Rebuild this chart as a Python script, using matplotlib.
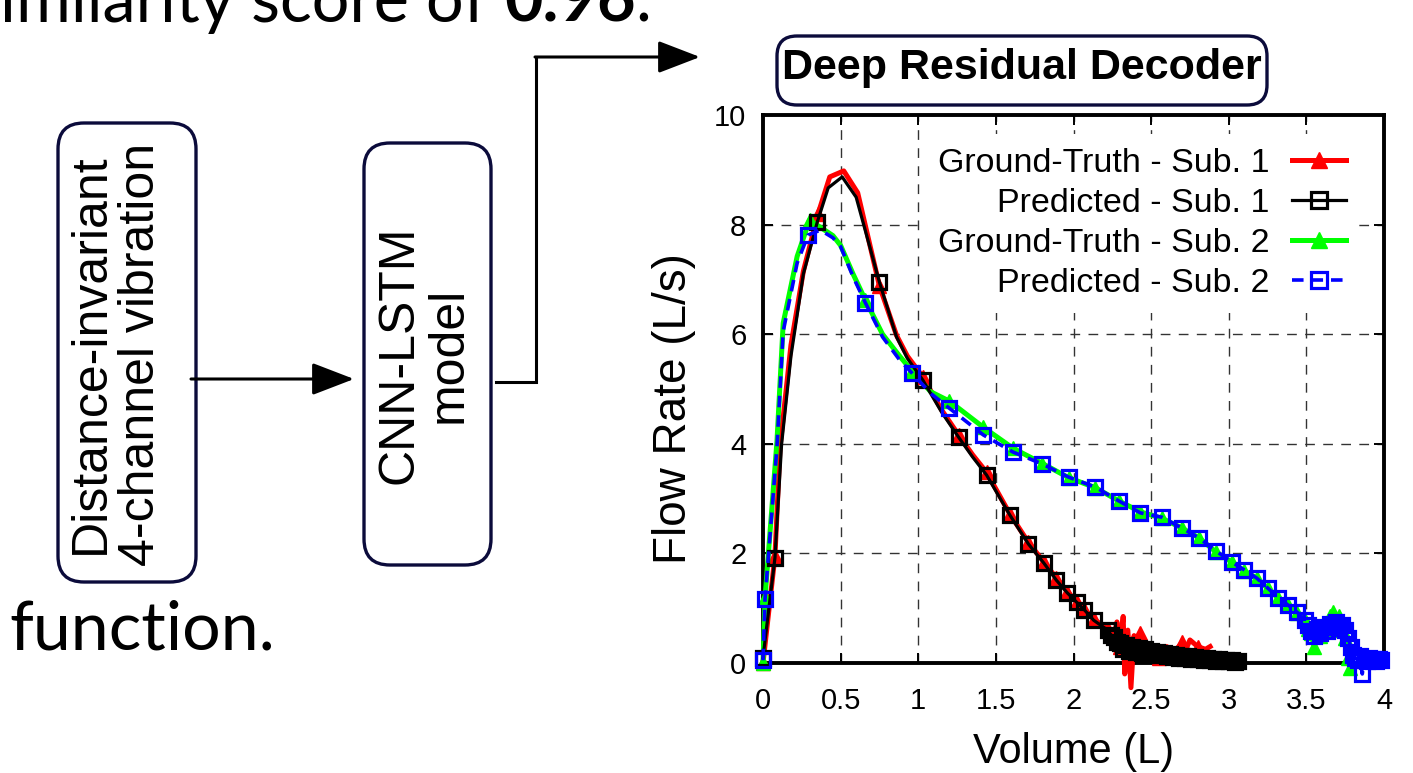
import matplotlib
matplotlib.use("Agg")
import matplotlib.pyplot as plt
from matplotlib.patches import FancyBboxPatch
from matplotlib.ticker import FormatStrFormatter

plt.rcParams["font.family"] = ["Liberation Sans", "DejaVu Sans"]

# ---- data (volume in L, flow in L/s) ----
gt1_vol = [0.00, 0.077, 0.11, 0.18, 0.26, 0.355, 0.43, 0.52, 0.61, 0.75, 0.86, 0.93, 1.03, 1.15,
           1.26, 1.35, 1.44, 1.59, 1.71, 1.81, 1.89, 1.96, 2.02, 2.07, 2.13, 2.18, 2.22, 2.26,
           2.28, 2.30, 2.32, 2.33, 2.35, 2.37, 2.39, 2.41, 2.43, 2.46, 2.50, 2.55, 2.60, 2.65,
           2.70, 2.72, 2.75, 2.80, 2.85, 2.88]
gt1_flow = [0.00, 1.95, 3.95, 5.8, 7.15, 8.2, 8.87, 8.98, 8.58, 6.88, 5.98, 5.6, 5.22, 4.62,
            4.16, 3.8, 3.48, 2.72, 2.2, 1.84, 1.55, 1.3, 1.12, 0.98, 0.8, 0.7, 0.62, 0.5,
            0.75, 0.3, 0.85, -0.2, 0.6, -0.45, 0.5, 0.2, 0.55, 0.15, 0.35, 0.1, 0.3, 0.2,
            0.38, 0.22, 0.42, 0.3, 0.25, 0.3]
gt1_marks = [0, 1, 5, 9, 12, 14, 16, 17, 18, 19, 20, 21, 22, 23, 24, 26, 29, 36, 39, 42, 45]

pr1_vol = [0.00, 0.077, 0.12, 0.18, 0.26, 0.35, 0.42, 0.51, 0.60, 0.75, 0.86, 0.93, 1.03, 1.15,
           1.26, 1.35, 1.44, 1.59, 1.71, 1.81, 1.89, 1.96, 2.02, 2.07, 2.13, 2.18,
           2.22, 2.24, 2.26, 2.28, 2.30, 2.32, 2.34, 2.36, 2.38, 2.40, 2.42, 2.44, 2.46, 2.48,
           2.50, 2.52, 2.54, 2.56, 2.58, 2.60, 2.62, 2.64, 2.66, 2.68, 2.70, 2.72, 2.74, 2.76,
           2.78, 2.80, 2.82, 2.84, 2.86, 2.88, 2.90, 2.92, 2.94, 2.96, 2.98, 3.00, 3.02, 3.04,
           3.06]
pr1_flow = [0.10, 1.92, 4.00, 5.6, 7.10, 8.05, 8.67, 8.87, 8.50, 6.95, 5.95, 5.56, 5.16, 4.58,
            4.12, 3.76, 3.43, 2.70, 2.17, 1.82, 1.51, 1.28, 1.11, 0.97, 0.78, 0.68,
            0.60, 0.52, 0.47, 0.38, 0.36, 0.26, 0.33, 0.22, 0.30, 0.20, 0.27, 0.19, 0.25, 0.17,
            0.22, 0.16, 0.20, 0.14, 0.18, 0.13, 0.16, 0.11, 0.15, 0.10, 0.13, 0.09, 0.12, 0.08,
            0.11, 0.07, 0.10, 0.06, 0.09, 0.05, 0.08, 0.04, 0.07, 0.04, 0.06, 0.03, 0.05, 0.02,
            0.03]
pr1_marks = [0, 1, 5, 9, 12, 14, 16, 17, 18, 19, 20, 21, 22, 23, 24] + list(range(26, 69))

gt2_vol = [0.00, 0.013, 0.09, 0.13, 0.22, 0.30, 0.37, 0.45, 0.50, 0.58, 0.66, 0.77, 0.88, 0.96,
           1.08, 1.20, 1.42, 1.61, 1.80, 1.97, 2.14, 2.29, 2.43, 2.57, 2.70, 2.81, 2.92, 3.02,
           3.10, 3.18, 3.25, 3.32, 3.38, 3.44,
           3.49, 3.51, 3.53, 3.55, 3.57, 3.59, 3.61, 3.63, 3.65, 3.67, 3.69, 3.71, 3.73, 3.75,
           3.77, 3.78]
gt2_flow = [0.00, 1.19, 4.05, 6.2, 7.42, 8.08, 7.95, 7.8, 7.62, 7.1, 6.62, 6.0, 5.6, 5.33,
            4.95, 4.78, 4.3, 3.92, 3.64, 3.38, 3.2, 2.96, 2.76, 2.64, 2.46, 2.28, 2.02, 1.84,
            1.68, 1.55, 1.36, 1.18, 1.05, 0.92,
            0.78, 0.62, 0.55, 0.30, 0.62, 0.50, 0.70, 0.58, 0.85, 0.93, 0.60, 0.85, 0.62, 0.45,
            0.10, -0.10]
gt2_marks = [0, 1, 5, 10, 13, 15] + list(range(16, 50))

pr2_vol = [0.00, 0.013, 0.09, 0.13, 0.22, 0.29, 0.37, 0.45, 0.50, 0.58, 0.66, 0.77, 0.88, 0.96,
           1.08, 1.20, 1.42, 1.61, 1.80, 1.97, 2.14, 2.29, 2.43, 2.57, 2.70, 2.81, 2.92, 3.02,
           3.10, 3.18, 3.25, 3.32, 3.38, 3.44,
           3.49, 3.51, 3.53, 3.55, 3.57, 3.59, 3.61, 3.63, 3.65, 3.67, 3.69, 3.71, 3.73, 3.75,
           3.77, 3.785, 3.80, 3.815, 3.83, 3.845, 3.86, 3.875, 3.89, 3.905, 3.92, 3.935, 3.95,
           3.965, 3.98]
pr2_flow = [0.05, 1.17, 3.95, 6.05, 7.3, 7.81, 7.9, 7.76, 7.6, 7.05, 6.57, 5.95, 5.53, 5.29,
            4.92, 4.65, 4.16, 3.85, 3.63, 3.39, 3.21, 2.96, 2.74, 2.66, 2.46, 2.28, 2.04, 1.84,
            1.70, 1.55, 1.37, 1.19, 1.06, 0.93,
            0.78, 0.70, 0.58, 0.50, 0.62, 0.55, 0.66, 0.58, 0.72, 0.66, 0.74, 0.64, 0.70, 0.60,
            0.45, 0.30, 0.15, 0.10, 0.05, 0.12, -0.20, 0.08, 0.04, 0.10, 0.05, 0.08, 0.04,
            0.07, 0.05]
pr2_marks = [0, 1, 5, 10, 13, 15] + list(range(16, 63))

x_ticks = [0, 0.5, 1, 1.5, 2, 2.5, 3, 3.5, 4]
y_ticks = [0, 2, 4, 6, 8, 10]

W, H = 1413, 773
fig = plt.figure(figsize=(W / 100, H / 100), dpi=100)

# full-figure canvas in pixel units for the slide/diagram parts
bg = fig.add_axes([0, 0, 1, 1])
bg.set_xlim(0, W)
bg.set_ylim(H, 0)
bg.axis("off")

navy = "#0b0b3b"
for (bx, by, bw, bh, rad) in [(58, 123, 138, 459, 26), (364, 143, 127, 422, 26), (777, 36, 490, 69, 20)]:
    bg.add_patch(FancyBboxPatch((bx, by), bw, bh, boxstyle=f"round,pad=0,rounding_size={rad}",
                                fc="white", ec=navy, lw=2.4))

bg.text(116, 354, "Distance-invariant\n4-channel vibration", rotation=90, fontsize=36,
        ha="center", va="center", linespacing=1.1, multialignment="center")
bg.text(424, 355, "CNN-LSTM\nmodel", rotation=90, fontsize=36,
        ha="center", va="center", linespacing=1.1, multialignment="center")
bg.text(1022, 79, "Deep Residual Decoder", fontsize=31, fontweight="bold",
        ha="center", va="baseline")

head = dict(arrowstyle="-|>,head_length=1.3,head_width=0.5", mutation_scale=20,
            lw=2.2, color="black", shrinkA=0, shrinkB=0)
bg.annotate("", xy=(354, 379), xytext=(191, 379), arrowprops=head)
bg.plot([496, 536, 536], [382, 382, 57], color="black", lw=2.2, solid_joinstyle="miter")
bg.annotate("", xy=(700, 57), xytext=(535, 57), arrowprops=head)

t1 = bg.text(0, 22, "imilarity score of ", fontsize=48, family="Lato", va="baseline", ha="left")
t2 = bg.annotate("0.96", xy=(1, 22), xycoords=(t1, "data"), fontsize=48, family="Lato",
                 fontweight="bold", va="baseline", ha="left")
bg.annotate(".", xy=(1, 22), xycoords=(t2, "data"), fontsize=48, family="Lato",
            va="baseline", ha="left")
bg.text(9, 650, "function.", fontsize=49, family="Lato", va="baseline", ha="left")

# ---- the flow-volume chart ----
ax = fig.add_axes([763 / W, (H - 663) / H, 621 / W, 548 / H])
ax.plot(gt1_vol, gt1_flow, color="#ff0000", lw=3.6, marker="^", ms=10, markevery=gt1_marks,
        label="Ground-Truth - Sub. 1", clip_on=False, zorder=3)
ax.plot(pr1_vol, pr1_flow, color="black", lw=2.3, marker="s", ms=9.5, mfc="none", mew=2.3,
        markevery=pr1_marks, label="Predicted - Sub. 1", clip_on=False, zorder=4)
ax.plot(gt2_vol, gt2_flow, color="#00ff00", lw=3.6, marker="^", ms=10, markevery=gt2_marks,
        label="Ground-Truth - Sub. 2", clip_on=False, zorder=3)
ax.plot(pr2_vol, pr2_flow, color="#0000ff", lw=2.6, ls=(0, (3.2, 2.2)), marker="s", ms=9.5,
        mfc="none", mew=2.3, markevery=pr2_marks, label="Predicted - Sub. 2",
        clip_on=False, zorder=4)

ax.set_xlim(0, 4)
ax.set_ylim(0, 10)
ax.set_xticks(x_ticks)
ax.set_yticks(y_ticks)
ax.xaxis.set_major_formatter(FormatStrFormatter("%g"))
ax.yaxis.set_major_formatter(FormatStrFormatter("%g"))
ax.tick_params(direction="in", length=7, width=1.4, top=True, right=True, labelsize=21)
ax.tick_params(axis="x", pad=17)
ax.tick_params(axis="y", pad=12)
ax.grid(True, color="#333333", linestyle=(0, (7, 6)), linewidth=1.0)
ax.set_axisbelow(True)
for sp in ax.spines.values():
    sp.set_linewidth(2.8)

ax.set_xlabel("Volume (L)", fontsize=30)
ax.set_ylabel("Flow Rate (L/s)", fontsize=33)
ax.xaxis.set_label_coords(0.5, -0.125)
ax.yaxis.set_label_coords(-0.108, 0.465)

leg = ax.legend(loc="upper right", bbox_to_anchor=(0.96, 0.965), frameon=True, fancybox=False,
                facecolor="white", edgecolor="none", framealpha=1.0, markerfirst=False,
                fontsize=24.5, handlelength=1.56, handletextpad=0.67, labelspacing=0.27,
                borderpad=0.4, borderaxespad=0, numpoints=1, markerscale=1.2)

fig.savefig("out.png", dpi=100)
